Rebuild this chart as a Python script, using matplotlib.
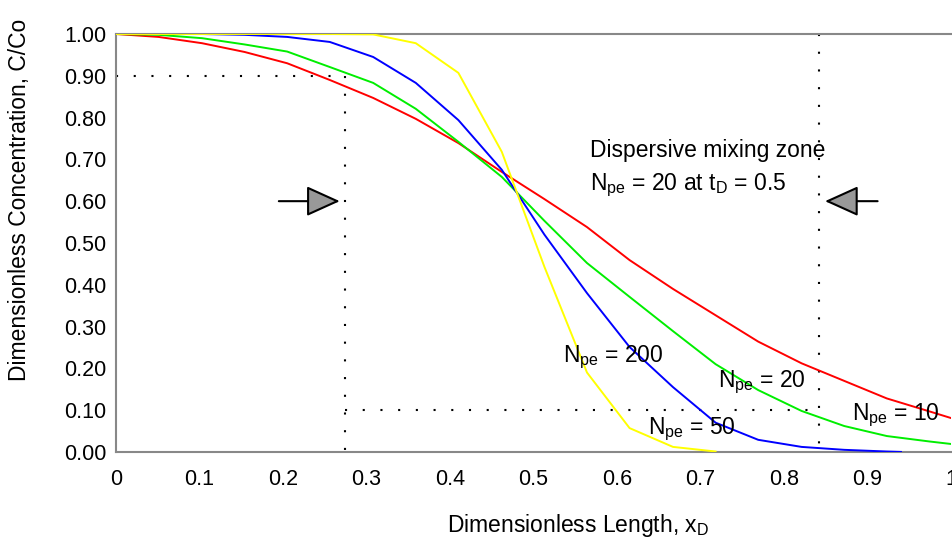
import matplotlib
matplotlib.use('Agg')
import matplotlib.pyplot as plt

plt.rcParams['font.family'] = ['Liberation Sans', 'DejaVu Sans']

# dimensionless length grid
x_d = [0.0, 0.051, 0.103, 0.154, 0.205, 0.256, 0.308, 0.359, 0.410, 0.462,
       0.513, 0.564, 0.615, 0.667, 0.718, 0.769, 0.821, 0.872, 0.923, 0.974, 1.0]

c_npe10 = [1.0, 0.993, 0.978, 0.957, 0.930, 0.890, 0.847, 0.797, 0.739, 0.670,
           0.605, 0.538, 0.459, 0.390, 0.327, 0.264, 0.212, 0.170, 0.128, 0.097, 0.081]
c_npe20 = [1.0, 0.998, 0.990, 0.975, 0.958, 0.921, 0.883, 0.821, 0.742, 0.658,
           0.553, 0.452, 0.371, 0.289, 0.210, 0.148, 0.098, 0.062, 0.038, 0.025, 0.019]
x_npe50 = x_d[:19] + [0.94]
c_npe50 = [1.0, 1.0, 1.0, 0.998, 0.993, 0.981, 0.945, 0.883, 0.794, 0.675,
           0.520, 0.380, 0.251, 0.155, 0.070, 0.029, 0.012, 0.005, 0.001, 0.0]
x_npe200 = x_d[:15]
c_npe200 = [1.0, 1.0, 1.0, 1.0, 1.0, 1.0, 0.999, 0.978, 0.907, 0.718,
            0.443, 0.190, 0.057, 0.012, 0.001]

# mixing zone bounds
x_front, x_back = 0.274, 0.842
c_high, c_low = 0.90, 0.10

y_ticks = [0.0, 0.1, 0.2, 0.3, 0.4, 0.5, 0.6, 0.7, 0.8, 0.9, 1.0]
x_ticks = [0, 0.1, 0.2, 0.3, 0.4, 0.5, 0.6, 0.7, 0.8, 0.9, 1.0]
x_labels = ['0', '0.1', '0.2', '0.3', '0.4', '0.5', '0.6', '0.7', '0.8', '0.9', '1']

fig = plt.figure(figsize=(9.53, 5.38), dpi=100)
ax = fig.add_axes([0.1217, 0.160, 0.8763, 0.7768])

lw = 1.4
ax.plot(x_d, c_npe10, color='#ff0000', lw=lw, zorder=3)
ax.plot(x_d, c_npe20, color='#00ee00', lw=lw, zorder=3)
ax.plot(x_npe50, c_npe50, color='#0000ff', lw=lw, zorder=3)
ax.plot(x_npe200, c_npe200, color='#ffff00', lw=lw, zorder=3)

dot = dict(color='black', lw=1.5, linestyle=(0, (1, 7.5)), zorder=2)
ax.plot([0, x_front], [c_high, c_high], **dot)
ax.plot([x_front, x_front], [c_high, 0], **dot)
ax.plot([x_front, x_back], [c_low, c_low], **dot)
ax.plot([x_back, x_back], [1.0, 0], **dot)

arrow = dict(arrowstyle='-|>,head_length=2.1,head_width=0.95', fc='#999999',
             ec='black', lw=1.5, shrinkA=0, shrinkB=0, mutation_scale=10)
ax.annotate('', xy=(0.268, 0.6), xytext=(0.195, 0.6), arrowprops=arrow)
ax.annotate('', xy=(0.849, 0.6), xytext=(0.912, 0.6), arrowprops=arrow)

fs = 16.5
tfs = 15.5
sub = r'N$_{\mathregular{pe}}$'
ax.text(0.535, 0.227, sub + ' = 200', fontsize=fs, va='center')
ax.text(0.637, 0.053, sub + ' = 50', fontsize=fs, va='center')
ax.text(0.721, 0.167, sub + ' = 20', fontsize=fs, va='center')
ax.text(0.881, 0.088, sub + ' = 10', fontsize=fs, va='center')
ax.text(0.568, 0.722, 'Dispersive mixing zone', fontsize=fs, va='center')
ax.text(0.568, 0.639, sub + r' = 20 at t$_{\mathregular{D}}$ = 0.5', fontsize=fs, va='center')

ax.set_xlim(0, 1)
ax.set_ylim(0, 1)
ax.set_xticks(x_ticks)
ax.set_xticklabels(x_labels)
ax.set_yticks(y_ticks)
ax.set_yticklabels([f'{v:.2f}' for v in y_ticks])
ax.tick_params(axis='both', length=0, labelsize=tfs)
ax.tick_params(axis='x', pad=12)
ax.tick_params(axis='y', pad=7)

for side in ['left', 'bottom', 'top']:
    ax.spines[side].set_color('#888888')
    ax.spines[side].set_linewidth(1.5)
ax.spines['right'].set_visible(False)

ax.set_xlabel(r'Dimensionless Length, x$_{\mathregular{D}}$', fontsize=fs)
ax.set_ylabel('Dimensionless Concentration, C/Co', fontsize=fs)
ax.xaxis.set_label_coords(0.553, -0.143)
ax.yaxis.set_label_coords(-0.102, 0.603)

fig.savefig('out.png', dpi=100)
